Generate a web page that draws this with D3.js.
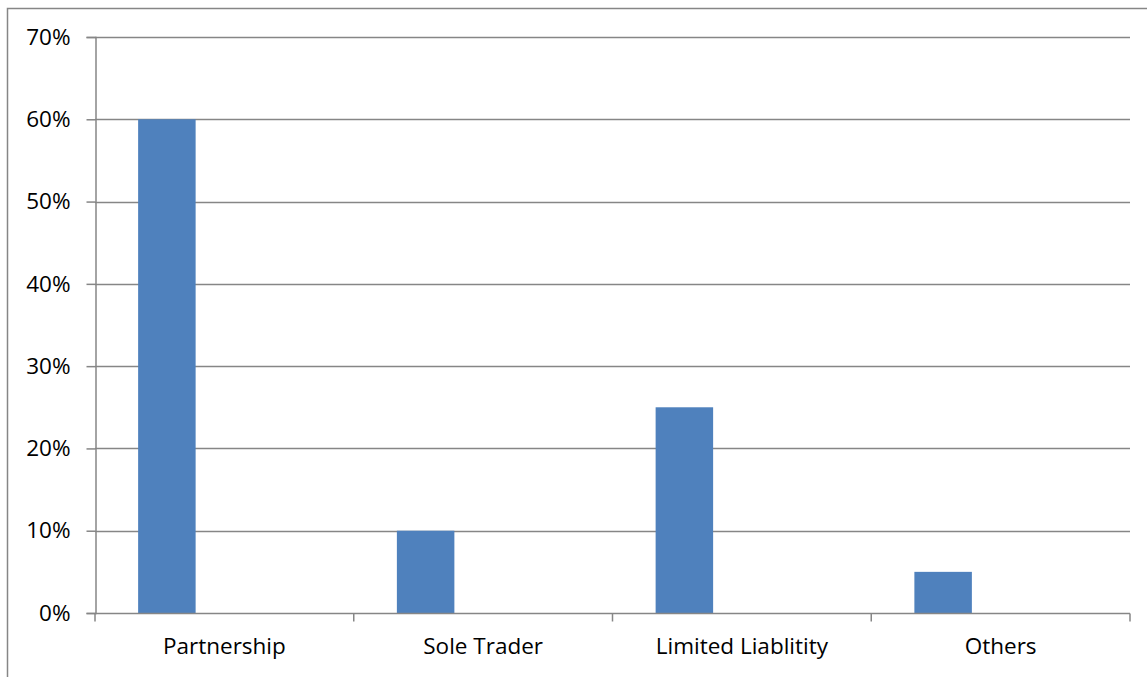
<!DOCTYPE html>
<html>
<head>
<meta charset="utf-8">
<script src="https://cdn.jsdelivr.net/npm/d3@7"></script>
<style>
  body { margin: 0; background: #fff; }
  svg { display: block; }
  .axis text { font-family: "Open Sans", sans-serif; font-size: 22.5px; fill: #000; }
</style>
</head>
<body>
<svg class="chart" width="1147" height="677"></svg>
<script>
var categories = ["Partnership", "Sole Trader", "Limited Liablitity", "Others"]
var values = [0.60, 0.10, 0.25, 0.05]
var yTicks = [0, 0.1, 0.2, 0.3, 0.4, 0.5, 0.6, 0.7]

var svg = d3.select(".chart")
var plotLeft = 95, plotRight = 1130, plotTop = 37, plotBottom = 613

// outer frame
svg.append("rect")
  .attr("x", 7.5).attr("y", 8.5)
  .attr("width", 1150).attr("height", 680)
  .attr("fill", "none")
  .attr("stroke", "#868686")
  .attr("stroke-width", 1.5)

var x = d3.scaleBand()
  .domain(categories)
  .range([plotLeft, plotRight])

var y = d3.scaleLinear()
  .domain([0, 0.7])
  .range([plotBottom, plotTop])

// gridlines
svg.append("g")
  .selectAll("line")
  .data(yTicks.slice(1))
  .enter()
  .append("line")
  .attr("x1", plotLeft).attr("x2", plotRight)
  .attr("y1", function(d){return Math.round(y(d)) + 0.5})
  .attr("y2", function(d){return Math.round(y(d)) + 0.5})
  .attr("stroke", "#868686")
  .attr("stroke-width", 1.5)

// bars: first slot of three, gap 150%
var slot = x.bandwidth() / 4.5
svg.append("g")
  .selectAll("rect")
  .data(categories)
  .enter()
  .append("rect")
  .attr("x", function(d){return x(d) + slot * 0.75})
  .attr("width", slot)
  .attr("y", function(d, i){return y(values[i])})
  .attr("height", function(d, i){return plotBottom - y(values[i])})
  .attr("fill", "#4F81BD")

// y axis
var yAxis = svg.append("g")
  .attr("class", "axis")
  .attr("transform", "translate(" + (plotLeft + 0.5) + ",0)")
  .call(d3.axisLeft(y).tickValues(yTicks).tickFormat(d3.format(".0%")).tickSize(9).tickPadding(16))
yAxis.select(".domain").attr("stroke", "#868686").attr("stroke-width", 1.5)
yAxis.selectAll(".tick line").attr("stroke", "#868686").attr("stroke-width", 1.5)

// x axis
var xAxis = svg.append("g")
  .attr("class", "axis")
  .attr("transform", "translate(0," + (plotBottom + 0.5) + ")")
  .call(d3.axisBottom(x).tickSize(0).tickPadding(25))
xAxis.select(".domain").remove()
xAxis.append("line")
  .attr("x1", plotLeft).attr("x2", plotRight)
  .attr("stroke", "#868686").attr("stroke-width", 1.5)
xAxis.selectAll(".sep")
  .data(d3.range(categories.length + 1))
  .enter()
  .append("line")
  .attr("x1", function(d){return plotLeft + d * x.step()})
  .attr("x2", function(d){return plotLeft + d * x.step()})
  .attr("y1", 0).attr("y2", 8)
  .attr("stroke", "#868686").attr("stroke-width", 1.5)
</script>
</body>
</html>
